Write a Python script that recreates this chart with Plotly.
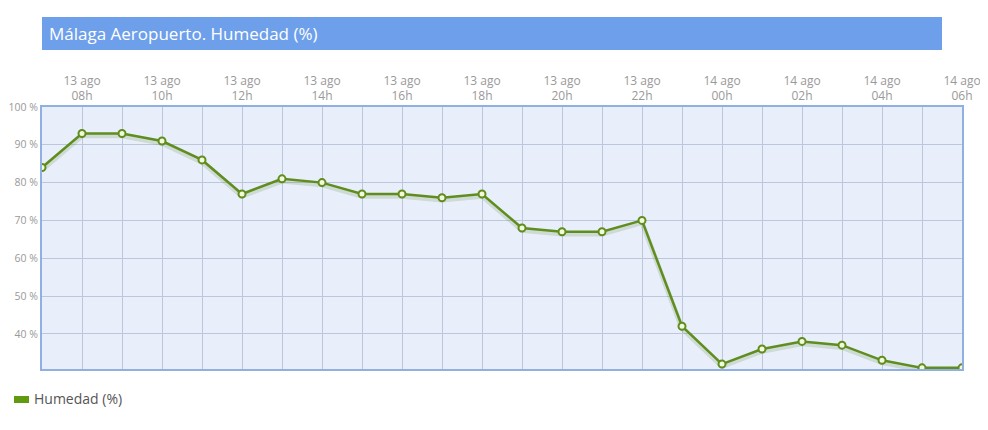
import plotly.graph_objects as go

hours = ["07h", "08h", "09h", "10h", "11h", "12h", "13h", "14h", "15h", "16h", "17h", "18h",
         "19h", "20h", "21h", "22h", "23h", "00h", "01h", "02h", "03h", "04h", "05h", "06h"]
days = ["13 ago"] * 17 + ["14 ago"] * 7
humedad = [84, 93, 93, 91, 86, 77, 81, 80, 77, 77, 76, 77,
           68, 67, 67, 70, 42, 32, 36, 38, 37, 33, 31, 31]
y_ticks = [40, 50, 60, 70, 80, 90, 100]

x = list(range(len(hours)))
tick_text = [f"{d}<br>{h}" if i % 2 == 1 else "" for i, (d, h) in enumerate(zip(days, hours))]

fig = go.Figure()
# soft shadow under the line
fig.add_trace(go.Scatter(x=x, y=[v - 0.6 for v in humedad], mode="lines",
                         line=dict(color="rgba(90,120,40,0.18)", width=5),
                         hoverinfo="skip", showlegend=False))
fig.add_trace(go.Scatter(x=x, y=humedad, mode="lines+markers", name="Humedad (%)",
                         line=dict(color="#5f8d1e", width=2.5),
                         marker=dict(size=7, color="#f4f9dc", line=dict(color="#5f8d1e", width=2)),
                         showlegend=False))

# page body has an 8px margin, so margins are shifted to compensate
fig.update_layout(
    width=980, height=422,
    margin=dict(l=34, r=26, t=99, b=61),
    paper_bgcolor="white", plot_bgcolor="#e8effb",
    font=dict(family="Open Sans", color="#999999", size=12),
    xaxis=dict(side="top", range=[0, 23], tickvals=x, ticktext=tick_text, automargin=False,
               showgrid=True, gridcolor="#bcc6dc", gridwidth=1, zeroline=False,
               ticks="", tickfont=dict(size=12, color="#999999"),
               showline=True, linecolor="#8fb0e0", linewidth=2, mirror=True),
    yaxis=dict(range=[30.7, 100], tickvals=y_ticks, ticktext=[f"{v} %" for v in y_ticks],
               automargin=False, ticklabelstandoff=0,
               showgrid=True, gridcolor="#bcc6dc", gridwidth=1, zeroline=False,
               ticks="", tickfont=dict(size=10.5, color="#999999"),
               showline=True, linecolor="#8fb0e0", linewidth=2, mirror=True),
    showlegend=False,
)

# title bar
fig.add_shape(type="rect", xref="paper", yref="paper",
              x0=0, x1=900 / 920, y0=1 + 57 / 262, y1=1 + 90 / 262,
              fillcolor="#6e9fea", line=dict(width=0), layer="below")
fig.add_annotation(text="Málaga Aeropuerto. Humedad (%)", xref="paper", yref="paper",
                   x=5 / 920, y=1 + 73.5 / 262, xanchor="left", yanchor="middle",
                   showarrow=False, font=dict(family="Open Sans", size=17, color="white"))

# legend
fig.add_shape(type="rect", xref="paper", yref="paper",
              x0=-28 / 920, x1=-13 / 920, y0=-34 / 262, y1=-27 / 262,
              fillcolor="#5f9a10", line=dict(width=0))
fig.add_annotation(text="Humedad (%)", xref="paper", yref="paper",
                   x=-10 / 920, y=-29 / 262, xanchor="left", yanchor="middle",
                   showarrow=False, font=dict(family="Open Sans", size=14, color="#555555"))

fig.write_html("out.html")
